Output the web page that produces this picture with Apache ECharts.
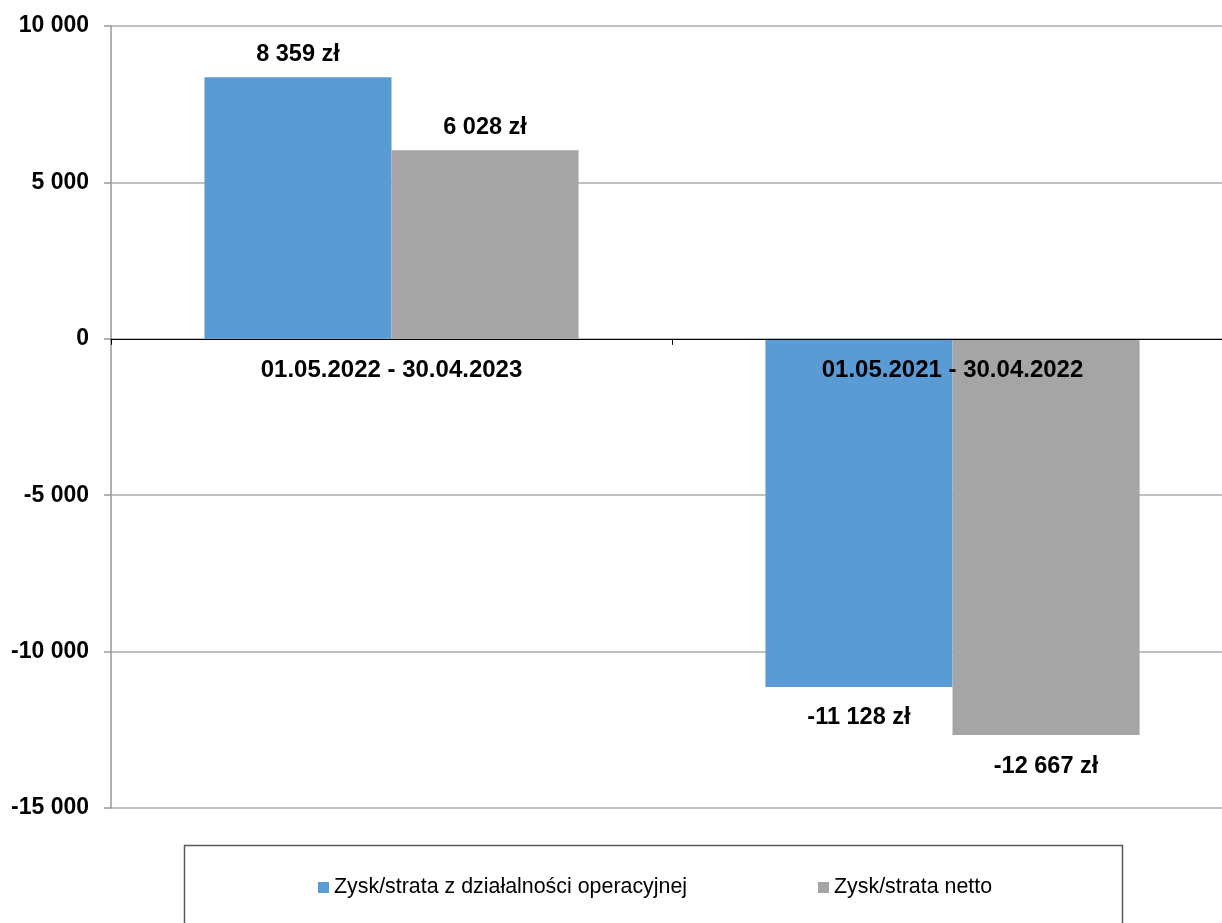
<!DOCTYPE html>
<html>
<head>
<meta charset="utf-8">
<script src="https://cdn.jsdelivr.net/npm/echarts@6/dist/echarts.min.js"></script>
<style>
html,body{margin:0;padding:0;background:#fff;}
#c{width:1222px;height:923px;}
</style>
</head>
<body>
<div id="c"></div>
<script>
const categories = ['01.05.2022 - 30.04.2023', '01.05.2021 - 30.04.2022'];
const seriesNames = ['Zysk/strata z działalności operacyjnej', 'Zysk/strata netto'];
const operacyjna = [8359, -11128];
const netto = [6028, -12667];
const yTicks = [-15000, -10000, -5000, 0, 5000, 10000];

const FONT = '"Liberation Sans", Arial, sans-serif';
function fmt(v){
  const s = Math.abs(v).toString().replace(/\B(?=(\d{3})+(?!\d))/g, ' ');
  return (v < 0 ? '-' : '') + s;
}
function items(arr){
  return arr.map(v => ({value: v, label: v < 0 ? {position: 'bottom', distance: 19} : {position: 'top', distance: 11}}));
}
const chart = echarts.init(document.getElementById('c'));
chart.setOption({
  animation: false,
  backgroundColor: '#fff',
  grid: {left: 111, top: 26, width: 1122, height: 782, containLabel: false, outerBoundsMode: 'none'},
  xAxis: {
    type: 'category',
    data: categories,
    z: 10,
    axisLine: {onZero: true, lineStyle: {color: '#000', width: 1}},
    axisTick: {show: true, length: 6, lineStyle: {color: '#000'}},
    axisLabel: {margin: -450, color: '#000', fontFamily: FONT, fontWeight: 'bold', fontSize: 24}
  },
  yAxis: {
    type: 'value',
    min: yTicks[0], max: yTicks[yTicks.length-1], interval: 5000,
    axisLine: {show: true, lineStyle: {color: '#999', width: 1.5}},
    axisTick: {show: true, length: 7, lineStyle: {color: '#999', width: 1.5}},
    splitLine: {lineStyle: {color: '#c0c0c0', width: 2}},
    axisLabel: {margin: 22, padding: [4, 0, 0, 0], color: '#000', fontFamily: FONT, fontWeight: 'bold', fontSize: 23, formatter: fmt}
  },
  legend: [
    {data: [seriesNames[0]], left: 318, top: 877, padding: 0, itemWidth: 11, itemHeight: 11, icon: 'rect',
     textStyle: {color: '#000', fontFamily: FONT, fontSize: 21.4}},
    {data: [seriesNames[1]], left: 818, top: 877, padding: 0, itemWidth: 11, itemHeight: 11, icon: 'rect',
     textStyle: {color: '#000', fontFamily: FONT, fontSize: 21.4}}
  ],
  graphic: [{
    type: 'rect', shape: {x: 184.5, y: 845.5, width: 938, height: 200},
    style: {fill: 'none', stroke: '#595959', lineWidth: 1.5}, silent: true
  }],
  series: [
    {name: seriesNames[0], type: 'bar', data: items(operacyjna), color: '#5B9BD5',
     barGap: '0%', barCategoryGap: '33.3%',
     label: {show: true, color: '#000', fontFamily: FONT, fontWeight: 'bold', fontSize: 23.5,
       formatter: p => fmt(p.value) + ' zł'}},
    {name: seriesNames[1], type: 'bar', data: items(netto), color: '#A5A5A5',
     barGap: '0%', barCategoryGap: '33.3%',
     label: {show: true, color: '#000', fontFamily: FONT, fontWeight: 'bold', fontSize: 23.5,
       formatter: p => fmt(p.value) + ' zł'}}
  ]
});
</script>
</body>
</html>
